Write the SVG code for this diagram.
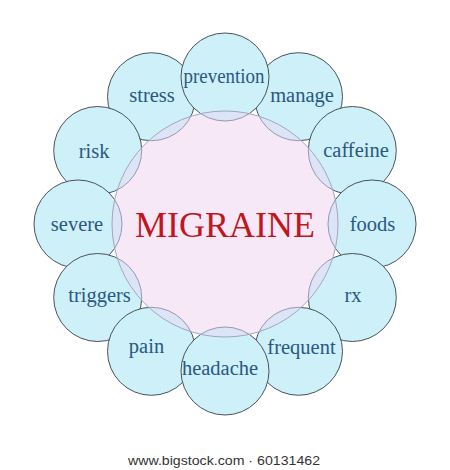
<svg xmlns="http://www.w3.org/2000/svg" width="450" height="470" viewBox="0 0 450 470">
<style>
.b{fill:#cdf0f9;stroke:#3a3f48;stroke-width:0.9}
.lbl{font-family:"Liberation Serif","Times New Roman",serif;font-size:20.5px;fill:#2a5880;text-anchor:middle}
.title{font-family:"Liberation Serif","Times New Roman",serif;font-size:36px;fill:#c1161e;text-anchor:middle}
</style>
<defs>
<clipPath id="cc"><circle cx="225" cy="224" r="113"/></clipPath>
<g id="ring">
<circle cx="225" cy="77" r="44"/>
<circle cx="298.5" cy="96.7" r="44"/>
<circle cx="352.3" cy="150.5" r="44"/>
<circle cx="372" cy="224" r="44"/>
<circle cx="352.3" cy="297.5" r="44"/>
<circle cx="298.5" cy="351.3" r="44"/>
<circle cx="225" cy="371" r="44"/>
<circle cx="151.5" cy="351.3" r="44"/>
<circle cx="97.7" cy="297.5" r="44"/>
<circle cx="78" cy="224" r="44"/>
<circle cx="97.7" cy="150.5" r="44"/>
<circle cx="151.5" cy="96.7" r="44"/>
</g>
</defs>
<rect width="450" height="470" fill="#ffffff"/>
<g id="connectors"/>
<g id="nodes">
<g id="n-stress"><circle class="b" cx="151.5" cy="96.7" r="44"/></g>
<g id="n-risk"><circle class="b" cx="97.7" cy="150.5" r="44"/></g>
<g id="n-severe"><circle class="b" cx="78" cy="224" r="44"/></g>
<g id="n-triggers"><circle class="b" cx="97.7" cy="297.5" r="44"/></g>
<g id="n-pain"><circle class="b" cx="151.5" cy="351.3" r="44"/></g>
<g id="n-manage"><circle class="b" cx="298.5" cy="96.7" r="44"/></g>
<g id="n-caffeine"><circle class="b" cx="352.3" cy="150.5" r="44"/></g>
<g id="n-foods"><circle class="b" cx="372" cy="224" r="44"/></g>
<g id="n-rx"><circle class="b" cx="352.3" cy="297.5" r="44"/></g>
<g id="n-frequent"><circle class="b" cx="298.5" cy="351.3" r="44"/></g>
<g id="n-prevention"><circle class="b" cx="225" cy="77" r="44"/></g>
<g id="n-headache"><circle class="b" cx="225" cy="371" r="44"/></g>
<g id="n-migraine">
<circle cx="225" cy="224" r="113" fill="#f7e8f8"/>
<g clip-path="url(#cc)">
<use href="#ring" fill="#dde4f8" stroke="none"/>
<use href="#ring" fill="none" stroke="#8a90a6" stroke-width="0.9"/>
</g>
<circle cx="225" cy="224" r="113" fill="none" stroke="#9aa0b0" stroke-width="0.9"/>
<text class="title" x="225" y="237">MIGRAINE</text>
</g>
<text class="lbl" x="224" y="83" textLength="81" lengthAdjust="spacingAndGlyphs">prevention</text>
<text class="lbl" x="302" y="102">manage</text>
<text class="lbl" x="356" y="157">caffeine</text>
<text class="lbl" x="372.5" y="231">foods</text>
<text class="lbl" x="353" y="302">rx</text>
<text class="lbl" x="301.5" y="354">frequent</text>
<text class="lbl" x="220" y="375">headache</text>
<text class="lbl" x="146.5" y="353">pain</text>
<text class="lbl" x="99.5" y="302">triggers</text>
<text class="lbl" x="77" y="231">severe</text>
<text class="lbl" x="94" y="158">risk</text>
<text class="lbl" x="152" y="102">stress</text>
</g>
<text x="224" y="465" font-family="Liberation Sans, Arial, sans-serif" font-size="13" fill="#333333" text-anchor="middle" textLength="192" lengthAdjust="spacingAndGlyphs">www.bigstock.com · 60131462</text>
</svg>
